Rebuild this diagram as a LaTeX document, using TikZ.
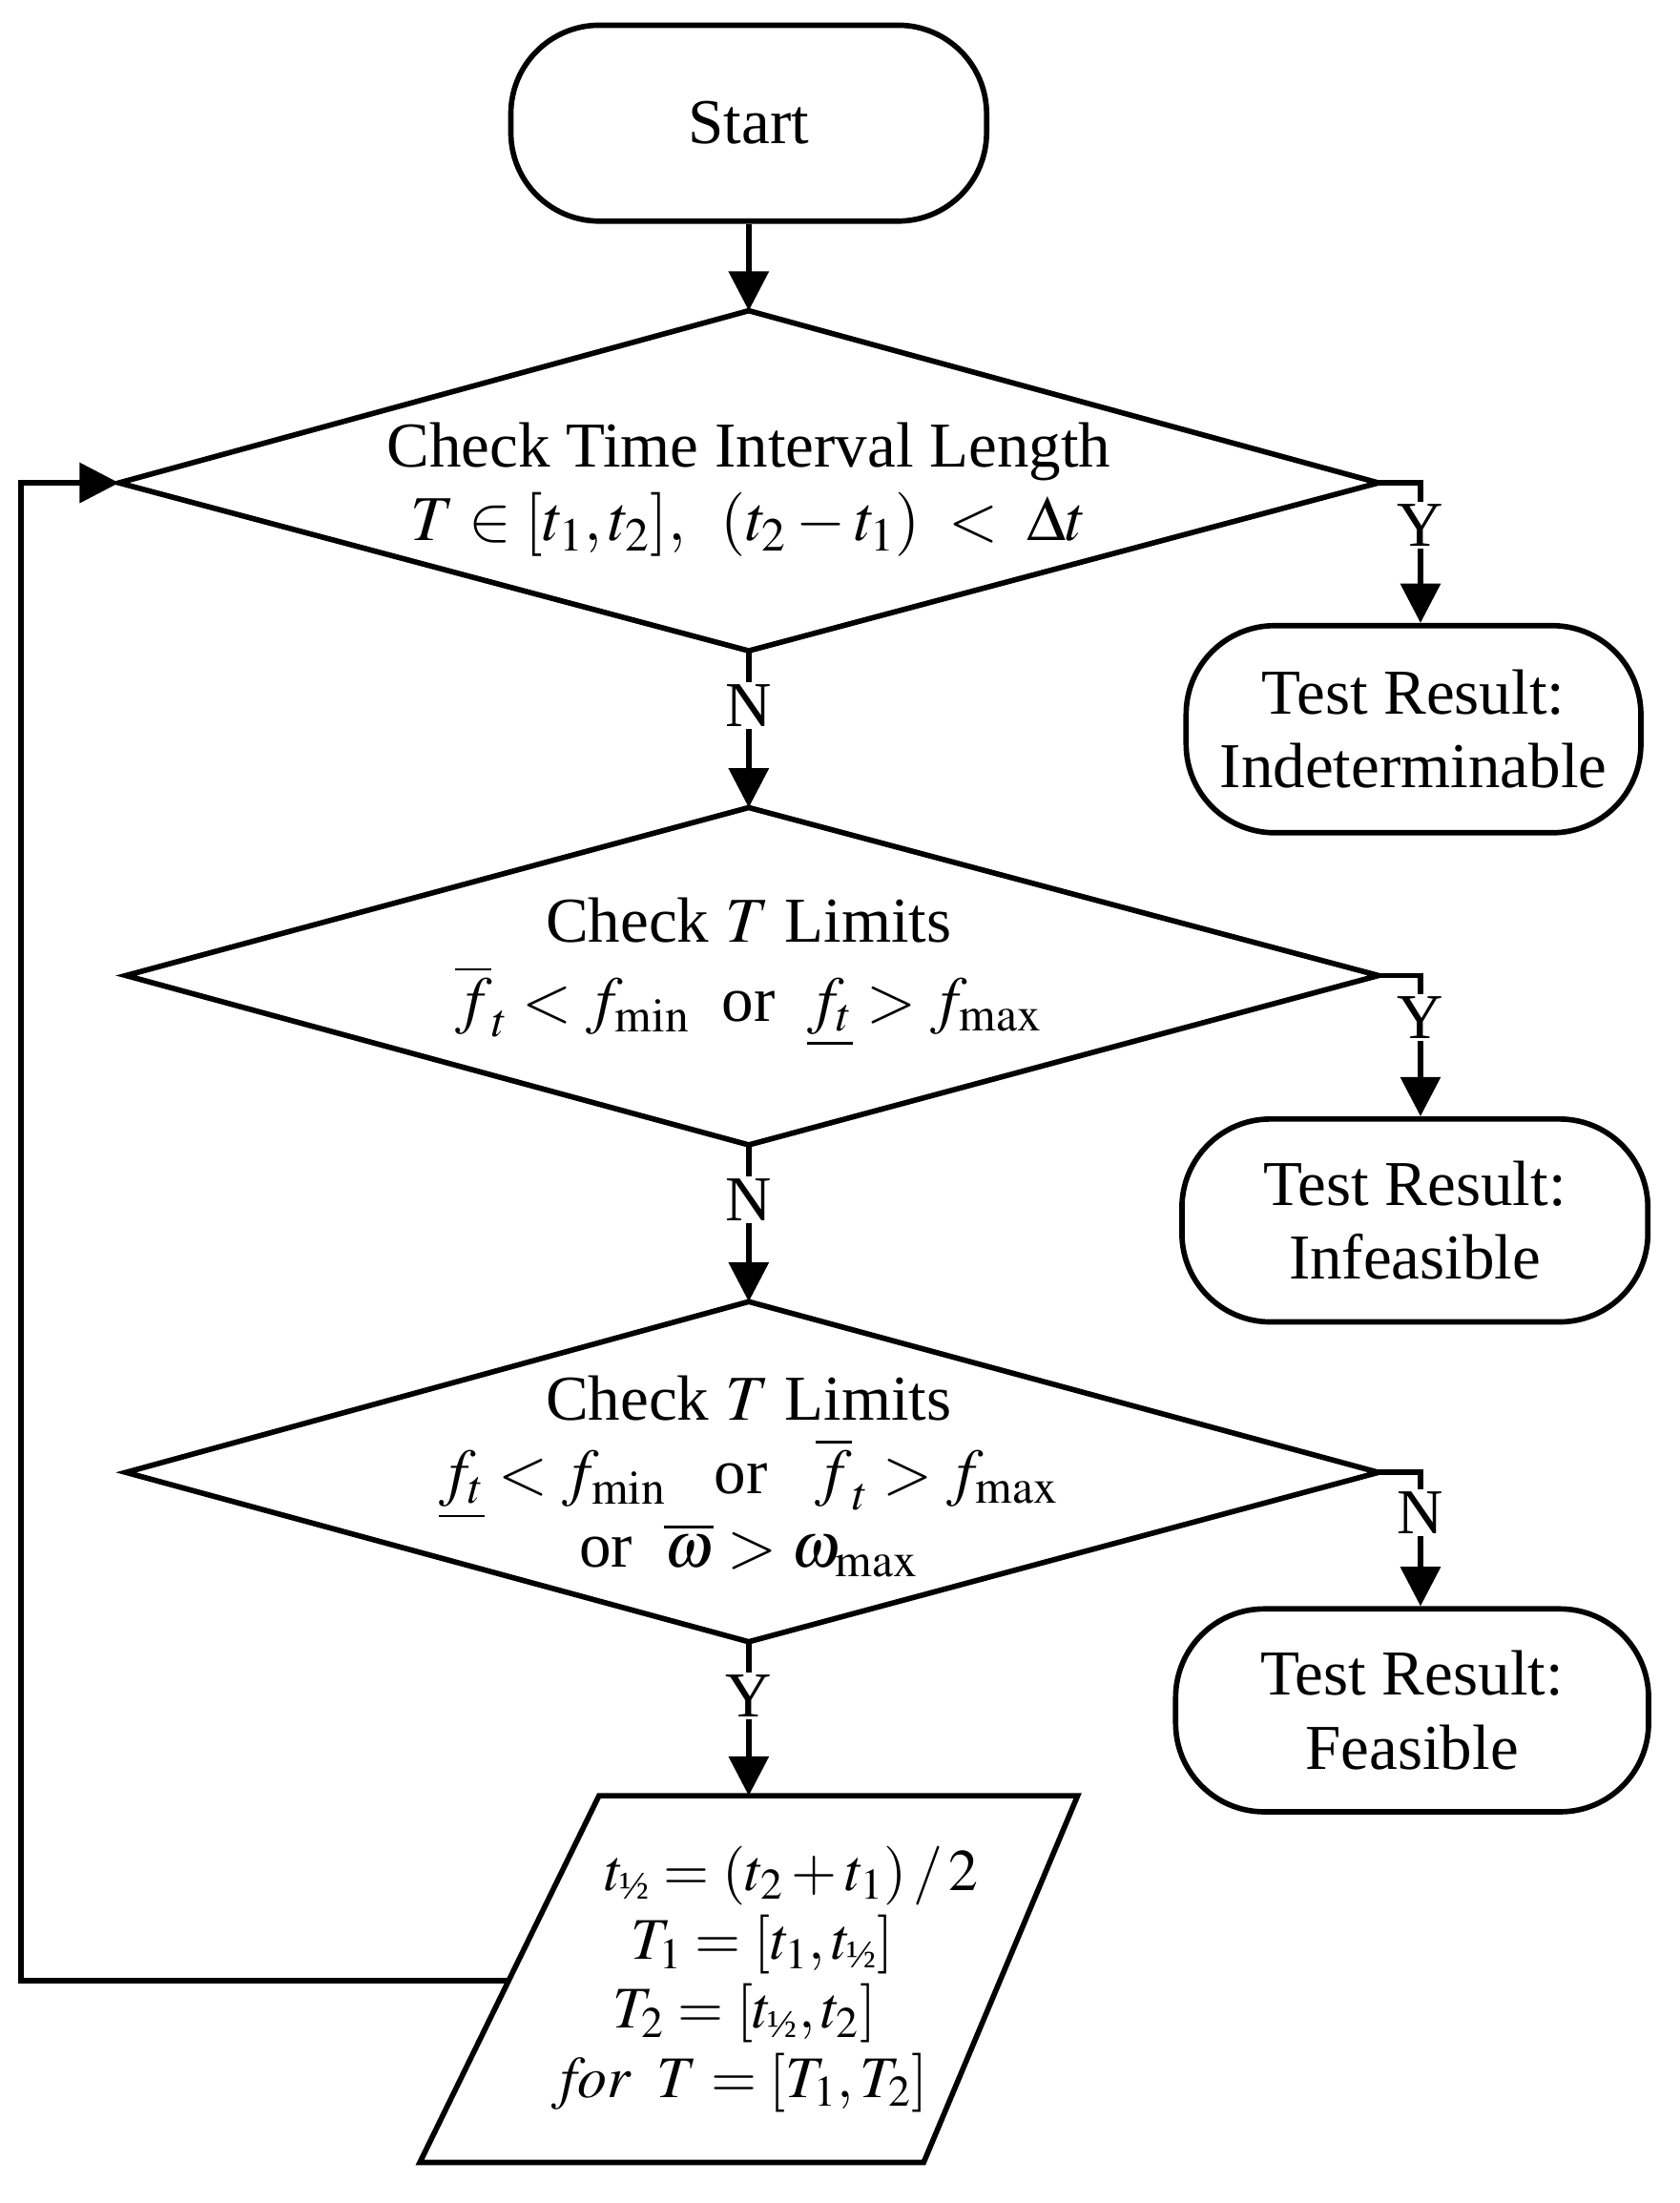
\documentclass[tikz,border=0pt]{standalone}
\usepackage{mathptmx}
\usepackage{fontspec}
\setmainfont{Liberation Serif}
\usetikzlibrary{arrows.meta}
\newcommand{\hlf}{\mbox{\fontsize{16}{16}\selectfont ½}}

\begin{document}
\begin{tikzpicture}[x=0.02cm, y=-0.02cm, line width=2.2pt,
  font=\fontsize{26}{34}\selectfont,
  term/.style = {draw, rounded corners=36pt, align=center},
  lbl/.style = {align=center},
  yn/.style = {fill=white, inner sep=1pt},
  flow/.style = {-{Triangle[length=16pt, width=16pt]}}]
\useasboundingbox (0,0) rectangle (1200,1574);

\node[term, minimum width=6.8cm, minimum height=2.8cm] (start) at (535,88) {Start};

% decision 1
\coordinate (d1t) at (535,222); \coordinate (d1l) at (85,345);
\coordinate (d1r) at (985,345); \coordinate (d1b) at (535,465);
\draw (d1t) -- (d1r) -- (d1b) -- (d1l) -- cycle;
\node[lbl] (d1) at (535,350) {Check Time Interval Length\\[-4pt]
  $T\in[t_1,t_2],\;\;(t_2-t_1)\;<\;\Delta t$};

% decision 2
\coordinate (d2t) at (535,577); \coordinate (d2l) at (90,697);
\coordinate (d2r) at (985,697); \coordinate (d2b) at (535,818);
\draw (d2t) -- (d2r) -- (d2b) -- (d2l) -- cycle;
\node[lbl] (d2) at (535,695) {Check $T$ Limits\\[-2pt]
  $\overline{f}_t<f_{\min}$ \ or \ $\underline{f_t}>f_{\max}$};

% decision 3
\coordinate (d3t) at (535,930); \coordinate (d3l) at (90,1052);
\coordinate (d3r) at (985,1052); \coordinate (d3b) at (535,1173);
\draw (d3t) -- (d3r) -- (d3b) -- (d3l) -- cycle;
\node[lbl] (d3) at (535,1055) {Check $T$ Limits\\[-4pt]
  $\underline{f_t}<f_{\min}$ \ \ or \ \ $\overline{f}_t>f_{\max}$\\[-4pt]
  or \ $\overline{\omega}>\omega_{\max}$};

% results
\node[term, minimum width=6.5cm, minimum height=2.96cm] (r1) at (1010,521) {Test Result:\\[-4pt]Indeterminable};
\node[term, minimum width=6.66cm, minimum height=2.9cm] (r2) at (1011,872) {Test Result:\\[-4pt]Infeasible};
\node[term, minimum width=6.76cm, minimum height=2.9cm] (r3) at (1009,1222) {Test Result:\\[-4pt]Feasible};

% split step
\coordinate (pa) at (428,1283); \coordinate (pb) at (770,1283);
\coordinate (pc) at (660,1545); \coordinate (pd) at (300,1545);
\draw (pa) -- (pb) -- (pc) -- (pd) -- cycle;
\node[lbl, font=\fontsize{24}{30}\selectfont] (split) at (532,1414) {\hspace{1.6em}$t_{\hlf}=(t_2+t_1)\,/\,2$\\[-2pt]
  \hspace{0.6em}$T_1=[t_1,t_{\hlf}]$\\[-2pt] $T_2=[t_{\hlf},t_2]$\hspace{0.6em}\\[-2pt]
  $\mathit{for}\;\;T=[T_1,T_2]$\hspace{1.6em}};
\coordinate (loop) at (362,1415);

\draw[flow] (start) -- (d1t);
\draw[flow] (d1b) -- node[yn, pos=0.35] {N} (d2t);
\draw[flow] (d2b) -- node[yn, pos=0.35] {N} (d3t);
\draw[flow] (d3b) -- node[yn, pos=0.35] {Y} (pa -| d3b);
\draw[flow] (d1r) -- (1015,345) -- node[yn, pos=0.3] {Y} (r1.north -| 1015,0);
\draw[flow] (d2r) -- (1015,697) -- node[yn, pos=0.3] {Y} (r2.north -| 1015,0);
\draw[flow] (d3r) -- (1015,1052) -- node[yn, pos=0.3] {N} (r3.north -| 1015,0);
\draw[flow] (loop) -- (15,1415) -- (15,345) -- (d1l);
\end{tikzpicture}
\end{document}
